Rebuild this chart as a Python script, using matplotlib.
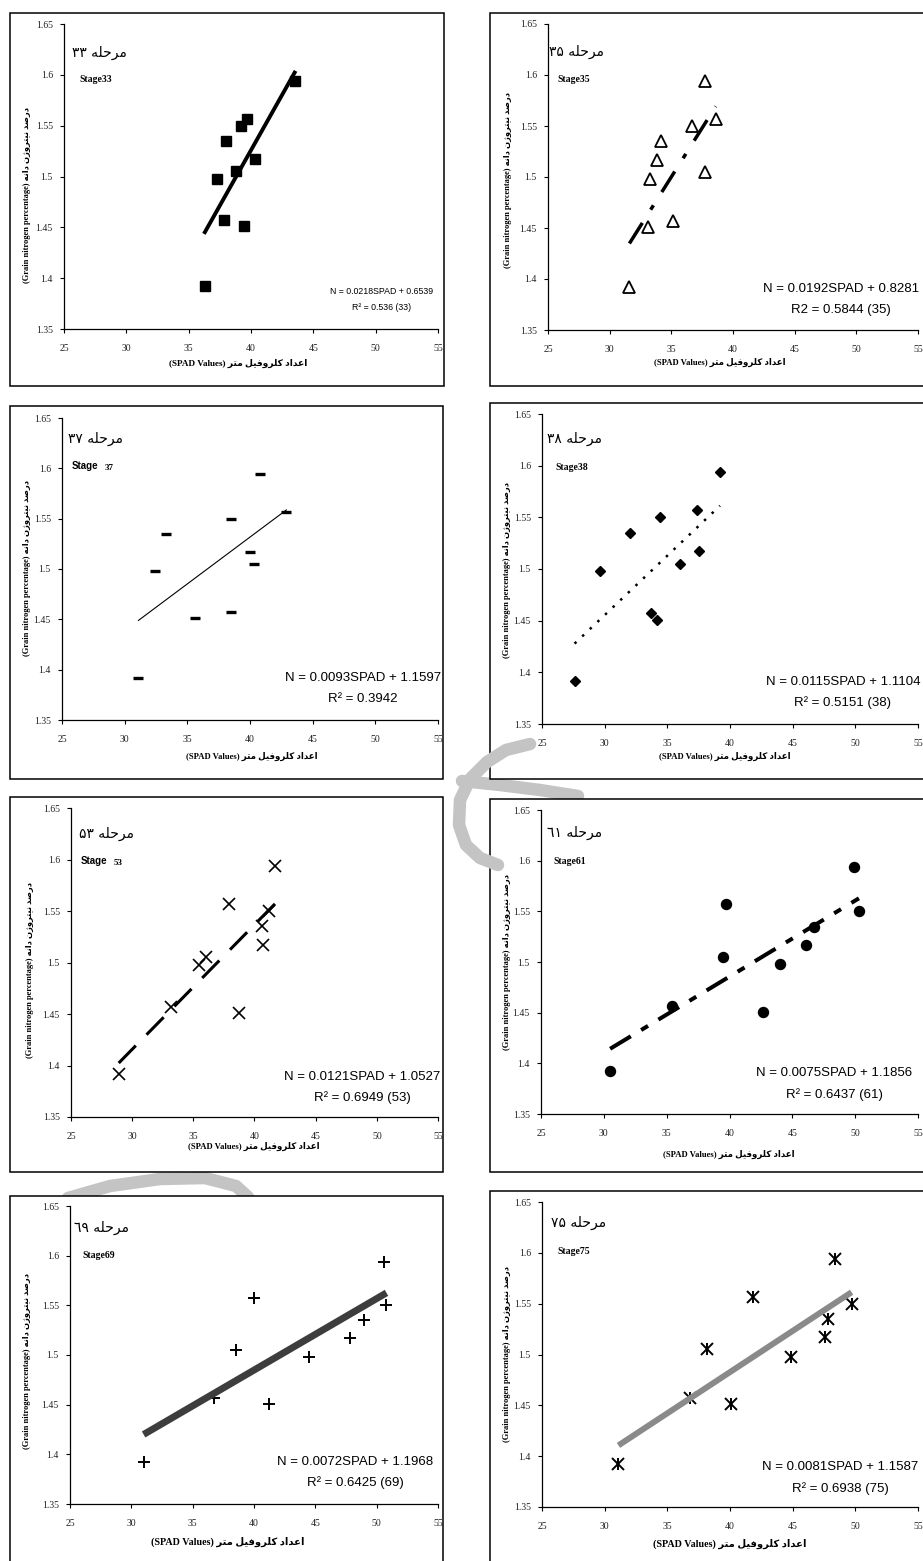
import matplotlib.pyplot as plt
from matplotlib.patches import Rectangle
from matplotlib.lines import Line2D
from matplotlib.ticker import FuncFormatter
import numpy as np

W, H = 923, 1561
fig = plt.figure(figsize=(W / 100, H / 100), dpi=100)

# grain N (%) is the same 10 samples in every stage, SPAD changes
grain_n = [1.392, 1.498, 1.535, 1.457, 1.505, 1.550, 1.557, 1.451, 1.517, 1.594]
spad_33 = [36.3, 37.3, 38.0, 37.8, 38.8, 39.2, 39.7, 39.4, 40.3, 43.5]
spad_35 = [31.6, 33.3, 34.2, 35.1, 37.7, 36.7, 38.6, 33.1, 33.8, 37.7]
spad_37 = [31.1, 32.4, 33.3, 38.5, 40.3, 38.5, 42.9, 35.6, 40.0, 40.8]
spad_38 = [27.6, 29.6, 32.0, 33.7, 36.0, 34.4, 37.4, 34.2, 37.5, 39.2]
spad_53 = [28.9, 35.5, 40.6, 33.2, 36.0, 41.2, 37.9, 38.7, 40.7, 41.7]
spad_61 = [30.5, 44.0, 46.7, 35.4, 39.5, 50.3, 39.7, 42.7, 46.1, 49.9]
spad_69 = [31.0, 44.5, 49.0, 36.7, 38.5, 50.8, 40.0, 41.2, 47.8, 50.6]
spad_75 = [31.1, 44.9, 47.8, 36.8, 38.2, 49.7, 41.8, 40.1, 47.6, 48.4]

stages = ['33', '35', '37', '38', '53', '61', '69', '75']
stages_fa = ['۳۳', '۳۵', '۳۷', '۳۸', '۵۳', '٦١', '٦٩', '۷۵']
slopes = [0.0218, 0.0192, 0.0093, 0.0115, 0.0121, 0.0075, 0.0072, 0.0081]
intercepts = [0.6539, 0.8281, 1.1597, 1.1104, 1.0527, 1.1856, 1.1968, 1.1587]
r2_text = ['R² = 0.536 (33)', 'R2 = 0.5844 (35)', 'R² = 0.3942', 'R² = 0.5151 (38)',
           'R² = 0.6949 (53)', 'R² = 0.6437 (61)', 'R² = 0.6425 (69)', 'R² = 0.6938 (75)']
spad_all = [spad_33, spad_35, spad_37, spad_38, spad_53, spad_61, spad_69, spad_75]

# persian words, shaped and in visual (left to right) order
MARHALE = '\uFEEA\uFEE0\uFEA3\uFEAE\uFEE3'
DARSAD = '\uFEAA\uFEBB\uFEAD\uFEA9'
NITROGEN = '\u0646\u0698\u0648\uFEAE\uFE98\uFEF4\uFEE7'
DANEH = '\uFEEA\uFEE7\u0627\u062F'
AEDAD = '\u062F\u0627\uFEAA\uFECB\u0627'
KOLOROFIL = '\uFEDE\uFEF4\uFED3\u0648\uFEAE\uFEE0\uFEDB'
METR = '\uFEAE\uFE98\uFEE3'

serif = ['Liberation Serif', 'DejaVu Sans']
sans = ['Liberation Sans', 'DejaVu Sans']

# layout in pixels: frame (l,t,r,b), axes (l,t,r,b), text anchors
layout = [
    dict(frame=(10, 13, 444, 386), axes=(64, 24, 438, 329), title=(72, 53), stage=(79, 80),
         eq=(382, 292, 308), eqfs=6.3, xl=(238, 363), xlfs=6.6, yl=(27, 195)),
    dict(frame=(490, 13, 926, 386), axes=(548, 24, 918, 330), title=(549, 52), stage=(557, 79),
         eq=(841, 289, 310), eqfs=9.5, xl=(720, 362), xlfs=6.2, yl=(508, 180)),
    dict(frame=(10, 406, 443, 779), axes=(62, 418, 438, 720), title=(68, 439), stage=(72, 466),
         eq=(363, 678, 699), eqfs=9.5, xl=(252, 756), xlfs=6.2, yl=(27, 568)),
    dict(frame=(490, 403, 926, 779), axes=(542, 414, 918, 724), title=(547, 439), stage=(555, 467),
         eq=(843, 682, 703), eqfs=9.5, xl=(725, 756), xlfs=6.2, yl=(507, 570)),
    dict(frame=(10, 797, 443, 1172), axes=(71, 808, 438, 1117), title=(79, 834), stage=(81, 861),
         eq=(362, 1077, 1098), eqfs=9.5, xl=(254, 1146), xlfs=6.2, yl=(30, 970)),
    dict(frame=(490, 799, 926, 1172), axes=(541, 810, 918, 1114), title=(547, 833), stage=(553, 862),
         eq=(834, 1073, 1095), eqfs=9.5, xl=(729, 1154), xlfs=6.2, yl=(507, 962)),
    dict(frame=(10, 1196, 443, 1566), axes=(70, 1206, 438, 1504), title=(74, 1228), stage=(82, 1256),
         eq=(355, 1462, 1483), eqfs=9.5, xl=(228, 1542), xlfs=7.2, yl=(27, 1361)),
    dict(frame=(490, 1191, 926, 1566), axes=(542, 1202, 918, 1507), title=(551, 1223), stage=(557, 1252),
         eq=(840, 1467, 1489), eqfs=9.5, xl=(730, 1544), xlfs=7.2, yl=(507, 1354)),
]

marker_styles = [
    dict(marker='s', ms=7.5, mfc='black', mec='black'),
    dict(marker='^', ms=8, mfc='white', mec='black', mew=1.3),
    dict(marker='_', ms=7, mec='black', mew=2.4),
    dict(marker='D', ms=5.5, mfc='black', mec='black'),
    dict(marker='x', ms=9, mec='black', mew=1.2),
    dict(marker='o', ms=7.2, mfc='black', mec='black'),
    dict(marker='+', ms=9, mec='black', mew=1.4),
    dict(marker='x', ms=8, mec='black', mew=1.4),
]

line_styles = [
    dict(color='black', lw=2.8, ls='-'),
    dict(color='black', lw=2.5, ls=(0, (7, 4.5, 1.5, 4.5))),
    dict(color='black', lw=0.8, ls='-'),
    dict(color='black', lw=1.8, ls=(0, (1, 3.2))),
    dict(color='black', lw=2.2, ls=(0, (8, 5))),
    dict(color='black', lw=2.9, ls=(0, (6, 3, 2, 3))),
    dict(color='#3d3d3d', lw=5.0, ls='-', solid_capstyle='butt'),
    dict(color='#8a8a8a', lw=4.3, ls='-', solid_capstyle='butt'),
]


def fx(x):
    return x / W


def fy(y):
    return 1 - y / H


def fmt(v, pos):
    return '%g' % v


# light grey watermark pieces showing between the panels
watermark = [
    ([(530, 744), (506, 750), (487, 762), (470, 779), (460, 800), (459, 825),
      (466, 845), (480, 858), (498, 865)], -0.5),
    ([(462, 781), (500, 785), (540, 790), (578, 796)], -3),
    ([(68, 1198), (110, 1186), (160, 1179), (205, 1178), (236, 1186), (248, 1197)], -3),
]
for pts, z in watermark:
    xs_w = [fx(p[0]) for p in pts]
    ys_w = [fy(p[1]) for p in pts]
    fig.add_artist(Line2D(xs_w, ys_w, transform=fig.transFigure, color='#c4c4c4', lw=9,
                          solid_capstyle='round', solid_joinstyle='round', zorder=z))

for i in range(8):
    L = layout[i]
    l, t, r, b = L['frame']
    fig.add_artist(Rectangle((fx(l), fy(b)), fx(r - l), (b - t) / H, transform=fig.transFigure,
                             facecolor='white', edgecolor='black', linewidth=1.1, zorder=-1))
    l, t, r, b = L['axes']
    ax = fig.add_axes([fx(l), fy(b), fx(r - l), (b - t) / H])
    ax.set_facecolor('none')
    ax.set_xlim(25, 55)
    ax.set_ylim(1.35, 1.65)
    ax.set_xticks(np.arange(25, 56, 5))
    ax.set_yticks(np.arange(1.35, 1.651, 0.05))
    ax.xaxis.set_major_formatter(FuncFormatter(fmt))
    ax.yaxis.set_major_formatter(FuncFormatter(fmt))
    for s in ['top', 'right']:
        ax.spines[s].set_visible(False)
    for s in ['left', 'bottom']:
        ax.spines[s].set_linewidth(0.9)
    ax.tick_params(direction='out', length=3, width=0.8, labelsize=7, labelcolor='#222')
    ax.tick_params(axis='x', pad=8)
    ax.tick_params(axis='y', pad=5)
    for lab in ax.get_xticklabels() + ax.get_yticklabels():
        lab.set_family(serif)

    x = spad_all[i]
    ax.plot(x, grain_n, ls='none', zorder=2, clip_on=False, **marker_styles[i])
    if i == 7:
        ax.plot(x, grain_n, ls='none', marker='|', ms=9, mec='black', mew=1.4, zorder=2)
    xs = np.array([min(x), max(x)])
    ax.plot(xs, slopes[i] * xs + intercepts[i], zorder=3, **line_styles[i])

    # persian stage title
    tx, ty = L['title']
    fig.text(fx(tx), fy(ty), stages_fa[i] + ' ' + MARHALE, ha='left', va='center',
             fontsize=10, family=['DejaVu Sans'])
    sx, sy = L['stage']
    if i in (2, 4):
        fig.text(fx(sx), fy(sy), 'Stage', ha='left', va='center', fontsize=7,
                 fontweight='heavy', family=sans)
        fig.text(fx(sx + 33), fy(sy + 2), stages[i], ha='left', va='center', fontsize=6.5,
                 fontweight='bold', family=serif)
    else:
        fig.text(fx(sx), fy(sy), 'Stage' + stages[i], ha='left', va='center', fontsize=7,
                 fontweight='bold', family=serif)

    # equation
    ex, ey1, ey2 = L['eq']
    eq = 'N = %.4fSPAD + %.4f' % (slopes[i], intercepts[i])
    fig.text(fx(ex), fy(ey1), eq, ha='center', va='center', fontsize=L['eqfs'], family=sans)
    fig.text(fx(ex), fy(ey2), r2_text[i], ha='center', va='center', fontsize=L['eqfs'], family=sans)

    # axis labels
    xx, xy = L['xl']
    fig.text(fx(xx), fy(xy), '(SPAD Values) ' + METR + ' ' + KOLOROFIL + ' ' + AEDAD,
             ha='center', va='center', fontsize=L['xlfs'], fontweight='bold', family=serif)
    yx, yy = L['yl']
    fig.text(fx(yx), fy(yy), '(Grain nitrogen percentage) ' + DANEH + ' ' + NITROGEN + ' ' + DARSAD,
             ha='center', va='center', rotation=90, fontsize=6, fontweight='bold', family=serif)

plt.savefig('out.png', dpi=100, facecolor='white')
